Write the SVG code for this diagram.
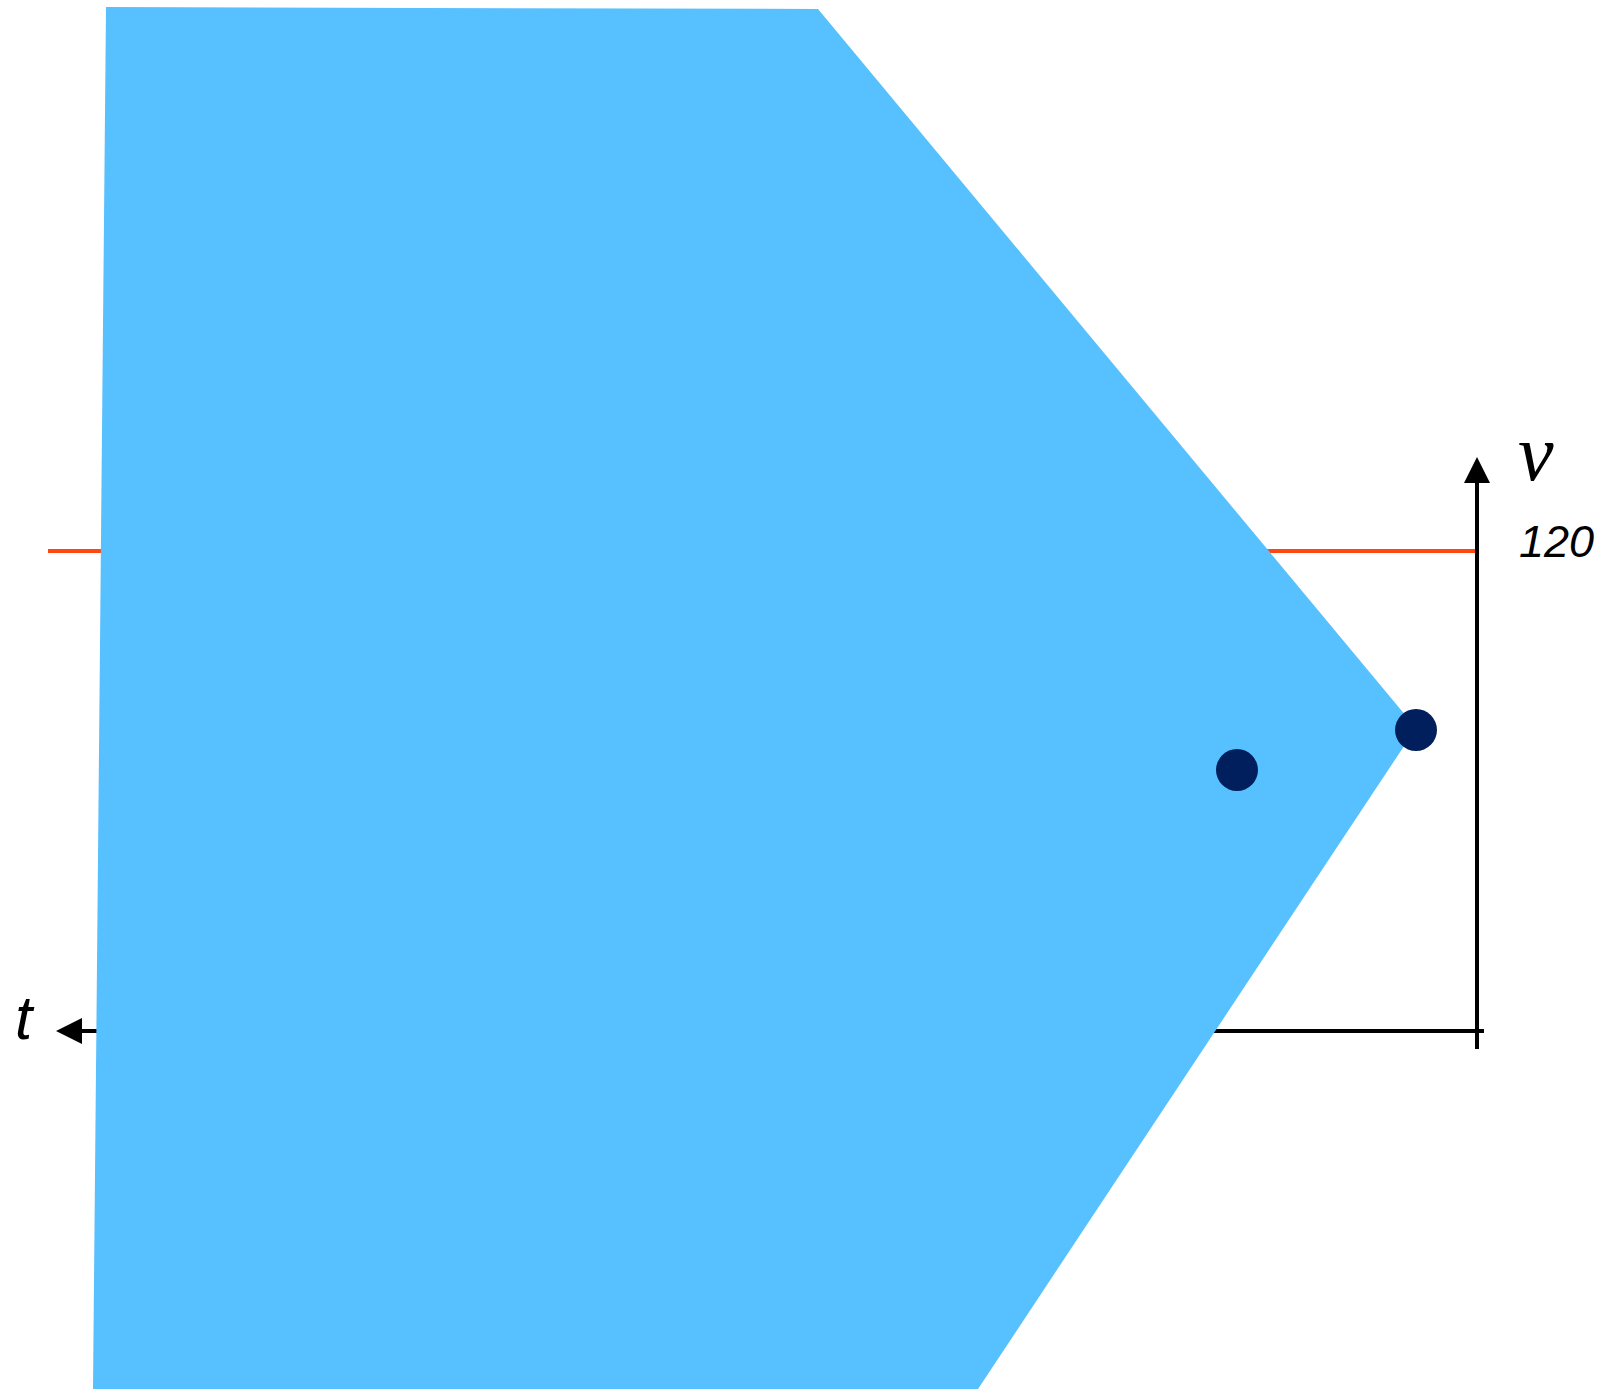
<svg xmlns="http://www.w3.org/2000/svg" width="1603" height="1389" viewBox="0 0 1603 1389">
<style>
.ax{stroke:#000;stroke-width:4;fill:none}
.dot{fill:#001F5C}
.lbl{font-family:"Liberation Sans",Arial,sans-serif;font-style:italic;fill:#000}
</style>
<defs>
<marker id="ah" markerUnits="userSpaceOnUse" markerWidth="26" markerHeight="26" refX="1" refY="13" orient="auto">
<path d="M0,0 L26,13 L0,26 Z" fill="#000"/>
</marker>
</defs>
<rect width="1603" height="1389" fill="#fff"/>
<line x1="48" y1="551" x2="1477" y2="551" stroke="#FF4713" stroke-width="4"/>
<g id="connectors">
<line class="ax" x1="1477" y1="1049" x2="1477" y2="482" marker-end="url(#ah)"/>
<line class="ax" x1="1484" y1="1031" x2="81" y2="1031" marker-end="url(#ah)"/>
</g>
<g id="region">
<polygon points="106,7 818,9 1416,728 978,1389 93,1389" fill="#57C0FE"/>
</g>
<g id="p1"><circle class="dot" cx="1237" cy="770" r="21"/></g>
<g id="p2"><circle class="dot" cx="1416" cy="730" r="21"/></g>
<text class="lbl" x="1518" y="480" style="font-family:'Liberation Serif',serif" font-size="80">v</text>
<text class="lbl" x="1519" y="557" font-size="45">120</text>
<text class="lbl" x="15" y="1039" font-size="62">t</text>
</svg>
